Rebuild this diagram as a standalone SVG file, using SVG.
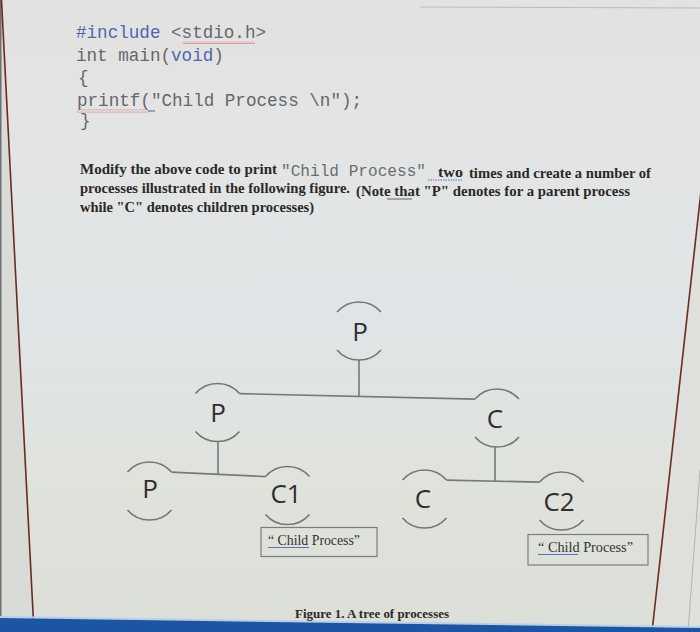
<svg xmlns="http://www.w3.org/2000/svg" width="700" height="632" viewBox="0 0 700 632">
  <defs>
    <linearGradient id="bg" x1="0" y1="0" x2="0" y2="1">
      <stop offset="0" stop-color="#e2e2e0"/>
      <stop offset="0.25" stop-color="#e3e5e4"/>
      <stop offset="0.5" stop-color="#dfe5e7"/>
      <stop offset="0.75" stop-color="#e0e3dc"/>
      <stop offset="1" stop-color="#dcdfd7"/>
    </linearGradient>
    <pattern id="wavy" patternUnits="userSpaceOnUse" width="4" height="3">
      <path d="M0 2.2 L2 0.8 L4 2.2" fill="none" stroke="#d46a6a" stroke-width="0.9"/>
    </pattern>
    <style>
      .code { font-family: "Liberation Mono", "DejaVu Sans Mono", monospace; font-size: 17.6px; fill: #64676d; }
      .kw { fill: #5066b0; }
      .para { font-family: "Liberation Serif", "DejaVu Serif", serif; font-weight: bold; font-size: 15.5px; fill: #2b2926; }
      .mono { font-family: "Liberation Mono", "DejaVu Sans Mono", monospace; font-size: 16px; fill: #6a6d70; }
      .arc { fill: none; stroke: #70767a; stroke-width: 1.6; }
      .conn { fill: none; stroke: #727a7d; stroke-width: 1.6; }
      .lbl { font-family: "Open Sans", "Noto Sans", sans-serif; font-size: 26px; fill: #2e2e2e; text-anchor: middle; }
      .box { fill: none; stroke: #7a7d7e; stroke-width: 1.2; }
      .boxtxt { font-family: "Liberation Serif", "DejaVu Serif", serif; font-size: 14px; fill: #333; }
      .uline { stroke: #5b6fb8; stroke-width: 1.2; }
      .cap { font-family: "Liberation Serif", "DejaVu Serif", serif; font-weight: bold; font-size: 12.5px; fill: #2b2926; }
    </style>
  </defs>

  <!-- page background -->
  <rect x="0" y="0" width="700" height="632" fill="url(#bg)"/>
  <polygon points="0,0 1.5,0 34,632 0,632" fill="#d9dbd7"/>
  <rect x="0" y="0" width="1.5" height="632" fill="#6d6f70"/>
  <polygon points="701.7,185 700,185 700,632 652,632" fill="#dfe0dc"/>
  <line x1="420" y1="7" x2="700" y2="8" stroke="#b9bbb9" stroke-width="1"/>
  <line x1="700" y1="470" x2="688" y2="632" stroke="#b0b3b1" stroke-width="1"/>

  <!-- margin lines -->
  <line x1="1.5" y1="0" x2="34" y2="632" stroke="#6e2a22" stroke-width="1.6"/>
  <line x1="701.7" y1="185" x2="652" y2="632" stroke="#6e2a22" stroke-width="1.6"/>

  <!-- bottom blue band -->
  <polygon points="0,616 700,626 700,628 0,618" fill="#b7cfe8"/>
  <polygon points="0,618 700,628 700,632 0,632" fill="#1b55a3"/>

  <!-- code -->
  <g id="code">
    <text class="code" x="76" y="38"><tspan class="kw">#include</tspan> &lt;stdio.h&gt;</text>
    <text class="code" x="76" y="61">int main(<tspan class="kw">void</tspan>)</text>
    <text class="code" x="78" y="83">{</text>
    <text class="code" x="77" y="106">printf("Child Process \n");</text>
    <text class="code" x="80" y="126">}</text>
    <rect x="183" y="41" width="72" height="3" fill="url(#wavy)"/>
    <rect x="77" y="109.5" width="71" height="3" fill="url(#wavy)"/>
    <line x1="148" y1="111" x2="155" y2="111" class="uline"/>
  </g>

  <!-- paragraph -->
  <g id="paragraph">
    <text class="para" x="80" y="174" textLength="197" lengthAdjust="spacingAndGlyphs">Modify the above code to print</text>
    <text class="mono" x="281" y="175.5" textLength="145" lengthAdjust="spacingAndGlyphs">"Child Process"</text>
    <line x1="428" y1="180" x2="463" y2="180" stroke="#5b6fb8" stroke-width="1" stroke-dasharray="1.5 1"/>
    <text class="para" x="438" y="177" textLength="25" lengthAdjust="spacingAndGlyphs">two</text>
    <text class="para" x="469" y="178" textLength="182" lengthAdjust="spacingAndGlyphs">times and create a number of</text>
    <text class="para" x="80" y="193" textLength="270" lengthAdjust="spacingAndGlyphs">processes illustrated in the following figure.</text>
    <text class="para" x="356" y="196" textLength="274" lengthAdjust="spacingAndGlyphs">(Note that "P" denotes for a parent process</text>
    <line x1="387" y1="199" x2="412" y2="199" stroke="#444" stroke-width="0.8"/>
    <text class="para" x="80" y="212" textLength="234" lengthAdjust="spacingAndGlyphs">while "C" denotes children processes)</text>
  </g>

  <!-- connectors -->
  <g id="connectors">
    <line class="conn" x1="239.5" y1="393.6" x2="475" y2="399.1"/>
    <line class="conn" x1="359" y1="360" x2="359" y2="396.5"/>
    <line class="conn" x1="171.5" y1="472.1" x2="265.5" y2="476.6"/>
    <line class="conn" x1="218" y1="441.5" x2="218" y2="474"/>
    <line class="conn" x1="446.5" y1="480.1" x2="539.5" y2="482.1"/>
    <line class="conn" x1="495" y1="447" x2="495" y2="481"/>
  </g>

  <!-- nodes -->
  <g id="node-p-top">
    <path class="arc" d="M337 312.1 A29 29 0 0 1 381 312.1"/>
    <path class="arc" d="M337 349.9 A29 29 0 0 0 381 349.9"/>
    <text class="lbl" x="360" y="341">P</text>
  </g>
  <g id="node-p-mid">
    <path class="arc" d="M195.5 393.6 A29 29 0 0 1 239.5 393.6"/>
    <path class="arc" d="M195.5 431.4 A29 29 0 0 0 239.5 431.4"/>
    <text class="lbl" x="218" y="422">P</text>
  </g>
  <g id="node-c-right">
    <path class="arc" d="M475 399.1 A29 29 0 0 1 519 399.1"/>
    <path class="arc" d="M475 436.9 A29 29 0 0 0 519 436.9"/>
    <text class="lbl" x="495" y="428">C</text>
  </g>
  <g id="node-p-bottom">
    <path class="arc" d="M127.5 472.1 A29 29 0 0 1 171.5 472.1"/>
    <path class="arc" d="M127.5 509.9 A29 29 0 0 0 171.5 509.9"/>
    <text class="lbl" x="150" y="498">P</text>
  </g>
  <g id="node-c1">
    <path class="arc" d="M265.5 476.6 A29 29 0 0 1 309.5 476.6"/>
    <path class="arc" d="M265.5 514.4 A29 29 0 0 0 309.5 514.4"/>
    <text class="lbl" x="286" y="503">C1</text>
  </g>
  <g id="node-c-bottom">
    <path class="arc" d="M402.5 480.1 A29 29 0 0 1 446.5 480.1"/>
    <path class="arc" d="M402.5 517.9 A29 29 0 0 0 446.5 517.9"/>
    <text class="lbl" x="423" y="508">C</text>
  </g>
  <g id="node-c2">
    <path class="arc" d="M539.5 482.1 A29 29 0 0 1 583.5 482.1"/>
    <path class="arc" d="M539.5 519.9 A29 29 0 0 0 583.5 519.9"/>
    <text class="lbl" x="559" y="511">C2</text>
  </g>

  <!-- output boxes -->
  <g id="box-c1">
    <rect class="box" x="261" y="527.5" width="116" height="29"/>
    <text class="boxtxt" x="268" y="545" textLength="92" lengthAdjust="spacingAndGlyphs">“ Child Process”</text>
    <line class="uline" x1="268" y1="547.5" x2="309" y2="547.5"/>
  </g>
  <g id="box-c2">
    <rect class="box" x="528" y="534.5" width="120" height="30.5"/>
    <text class="boxtxt" x="538" y="552" textLength="95" lengthAdjust="spacingAndGlyphs">“ Child Process”</text>
    <line class="uline" x1="538" y1="554.5" x2="578" y2="554.5"/>
  </g>

  <!-- caption -->
  <g id="caption">
    <text class="cap" x="295" y="618" textLength="154" lengthAdjust="spacingAndGlyphs">Figure 1. A tree of processes</text>
  </g>
</svg>
